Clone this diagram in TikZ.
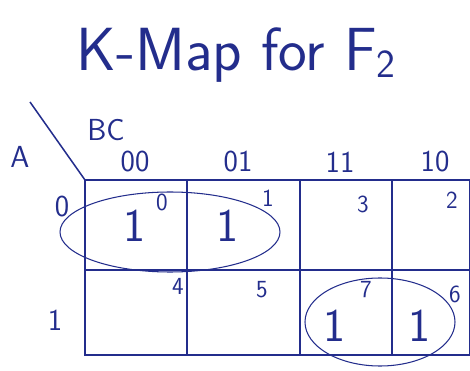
\documentclass[tikz,border=0pt]{standalone}
\usepackage{tikz}
\usetikzlibrary{positioning}
\usepackage{xcolor}
\definecolor{inkBlue}{RGB}{35,45,140}

\begin{document}
\begin{tikzpicture}[
  x=0.03cm, y=-0.03cm,
  ink/.style={draw=inkBlue, line width=1.3pt},
  loop/.style={draw=inkBlue, line width=0.9pt},
  head/.style={text=inkBlue, font=\sffamily\fontsize{26}{26}\selectfont, inner sep=0pt},
  idx/.style={text=inkBlue, font=\sffamily\fontsize{21}{21}\selectfont, inner sep=0pt},
  one/.style={text=inkBlue, font=\sffamily\fontsize{40}{40}\selectfont, inner sep=0pt}
]
  \useasboundingbox (0,0) rectangle (470,371);

  % title
  \node[text=inkBlue, font=\sffamily\fontsize{52}{52}\selectfont, inner sep=0pt]
    (title) at (236,55) {K-Map for F\raisebox{-0.12em}{\fontsize{34}{34}\selectfont 2}};

  % corner
  \coordinate (corner) at (85,180);
  \coordinate (slash) at (30,102);
  \draw[ink] (slash) -- (corner);
  \node[head] (BC) at (106,130) {BC};
  \node[head] (A)  at (20,157)  {A};

  % grid
  \draw[ink] (85,180) rectangle (470,355);
  \draw[ink] (85,270) -- (470,270);
  \foreach \x in {187,300,392}
    \draw[ink] (\x,180) -- (\x,355);

  % column and row labels
  \foreach \t/\x in {00/135, 01/238, 11/340, 10/435}
    \node[head] (col\t) at (\x,162) {\t};
  \node[head] (row0) at (62,207) {0};
  \node[head] (row1) at (55,320) {1};

  % cell indices
  \foreach \n/\x/\y in {0/162/202, 1/268/198, 3/363/204, 2/452/200,
                        4/178/286, 5/262/290, 7/366/290, 6/455/294}
    \node[idx] (m\n) at (\x,\y) {\n};

  % minterms
  \foreach \n/\x/\y in {0/135/226, 1/228/226, 7/335/326, 6/420/326}
    \node[one] (v\n) at (\x,\y) {1};

  % groups
  \draw[loop] (170,232) ellipse [x radius=110, y radius=40];
  \draw[loop] (380,322) ellipse [x radius=75, y radius=44];
\end{tikzpicture}
\end{document}
